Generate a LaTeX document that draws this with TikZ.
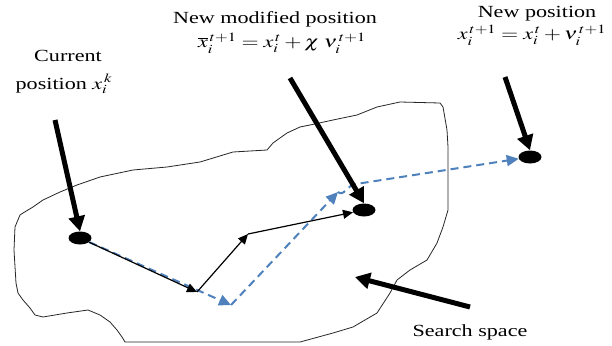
\documentclass[tikz,border=0pt]{standalone}
\usepackage{graphicx}
\usepackage{mathptmx}
\usepackage{fontspec}
\setmainfont{Liberation Serif}
\usetikzlibrary{arrows.meta,shapes.geometric}
\newcommand{\wideit}[1]{\scalebox{1.3}[1]{#1}}
\definecolor{dashblue}{RGB}{79,129,189}
\tikzset{
  lbl/.style={inner sep=0pt, anchor=base, font=\fontsize{17}{20}\selectfont},
  dotnode/.style={ellipse, fill=black, minimum width=23pt, minimum height=13pt, inner sep=0pt},
  bigarrow/.style={line width=5pt, -{Triangle[length=15pt,width=16pt]}},
  thinarrow/.style={line width=1.2pt, -{Triangle[length=10pt,width=9pt]}},
  bluedash/.style={draw=dashblue, line width=2pt, dash pattern=on 8pt off 5pt, -{Triangle[length=12pt,width=11pt]}},
  outline/.style={line width=0.8pt, black!85, line join=round}
}
\begin{document}
\begin{tikzpicture}[x=1pt,y=-1pt]
\useasboundingbox[fill=white] (0,0) rectangle (612,345);
% search space outline
\draw[outline] (20,215) -- (23,213) -- (33,207) -- (43,200) -- (60,192) -- (77,185) -- (100,177)
  -- (133,170) -- (167,167) -- (200,162) -- (233,152) -- (267,150) -- (273,143) -- (287,133)
  -- (300,127) -- (310,125) -- (333,120) -- (357,115) -- (377,107) -- (400,102) -- (440,103)
  -- (443,107) -- (447,130) -- (448,147) -- (448,210) -- (443,227) -- (437,243) -- (427,260)
  -- (410,270) -- (397,280) -- (390,293) -- (377,313) -- (353,327) -- (333,333) -- (300,342)
  -- (125,342) -- (122,337) -- (117,330) -- (110,322) -- (100,315) -- (88,310) -- (67,313)
  -- (43,317) -- (35,315) -- (30,308) -- (23,300) -- (18,293) -- (16,283) -- (14,250)
  -- (15,227) -- cycle;
% dots
\node[dotnode] (p1) at (80,238) {};
\node[dotnode] (p2) at (364,210) {};
\node[dotnode] (p3) at (530,157) {};
% coordinates
\coordinate (a1s) at (55,120);
\coordinate (a2s) at (290,78);
\coordinate (a3s) at (505,77);
\coordinate (b1) at (197,292);
\coordinate (b2) at (248,234);
\coordinate (c1) at (231,305);
\coordinate (c2) at (338,192);
\coordinate (c3) at (356,184);
\coordinate (s1) at (470,307);
\coordinate (s2) at (355,277);
% blue dashed path
\draw[bluedash] (p1) -- (c1);
\draw[bluedash] (c1) -- (c2);
\draw[bluedash] (c2) to[out=-45,in=180] (c3) -- (p3);
% thin arrows
\draw[thinarrow] (p1) -- (b1);
\draw[thinarrow] (b1) -- (b2);
\draw[thinarrow] (b2) -- (p2);
% big arrows
\draw[bigarrow] (a1s) -- (p1.north);
\draw[bigarrow] (a2s) -- (p2.north);
\draw[bigarrow] (a3s) -- (p3.north);
\draw[bigarrow] (s1) -- (s2);
% labels
\node[lbl] (t1) at (68,62) {\wideit{Current}};
\node[lbl] (t2) at (64,89) {\wideit{position $x_i^{\,k}$}};
\node[lbl] (t3) at (275,24) {\wideit{New modified position}};
\node[lbl] (t4) at (282,48) {\wideit{$\overline{x}_i^{\,t+1}=x_i^{\,t}+\chi\;\nu_i^{\,t+1}$}};
\node[lbl] (t5) at (537,18) {\wideit{New position}};
\node[lbl] (t6) at (532,40) {\wideit{$x_i^{\,t+1}=x_i^{\,t}+\nu_i^{\,t+1}$}};
\node[lbl] (t7) at (470,336) {\wideit{Search space}};
\end{tikzpicture}
\end{document}
